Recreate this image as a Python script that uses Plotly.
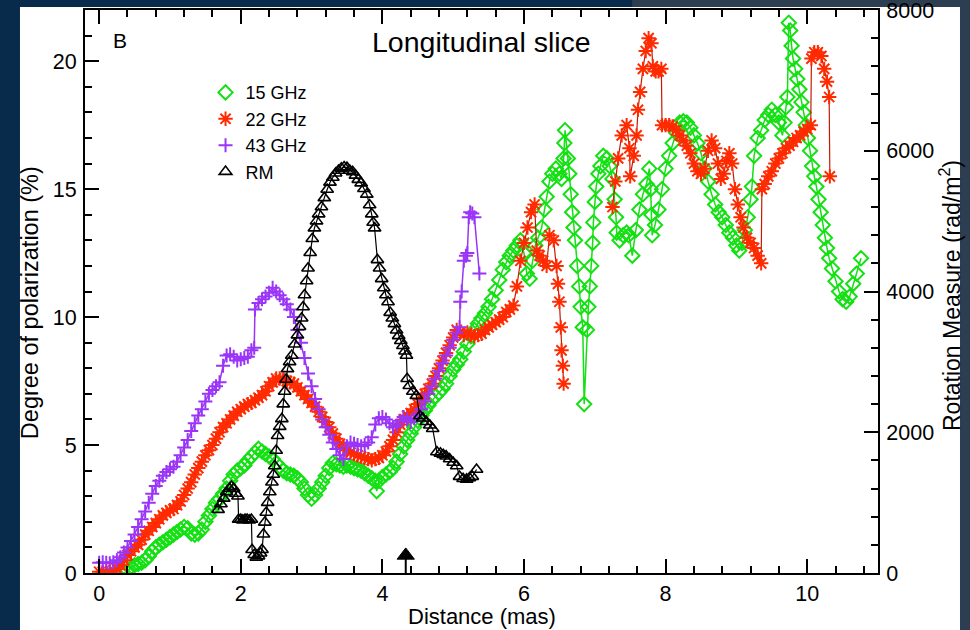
import plotly.graph_objects as go

# ---------------- data ----------------
# 43 GHz degree of polarization (%) along the jet
dist_43 = [0.00, 0.05, 0.10, 0.15, 0.20, 0.25, 0.30, 0.35, 0.40, 0.45, 0.50, 0.55, 0.60, 0.65,
           0.70, 0.75, 0.80, 0.85, 0.90, 0.95, 1.00, 1.05, 1.10, 1.15, 1.20, 1.25, 1.30, 1.35,
           1.40, 1.45, 1.50, 1.55, 1.60, 1.65, 1.70, 1.75, 1.80, 1.85, 1.90, 1.95, 2.00, 2.05,
           2.10, 2.15, 2.19, 2.20, 2.25, 2.30, 2.35, 2.40, 2.45, 2.50, 2.55, 2.60, 2.65, 2.70,
           2.75, 2.80, 2.85, 2.90, 2.95, 3.00, 3.05, 3.10, 3.15, 3.20, 3.25, 3.30, 3.35, 3.40,
           3.45, 3.50, 3.55, 3.60, 3.65, 3.70, 3.75, 3.80, 3.85, 3.90, 3.95, 4.00, 4.05, 4.10,
           4.15, 4.20, 4.25, 4.30, 4.35, 4.40, 4.45, 4.50, 4.55, 4.60, 4.65, 4.70, 4.75, 4.80,
           4.85, 4.90, 4.95, 5.00, 5.05, 5.09, 5.10, 5.12, 5.15, 5.18, 5.20, 5.22, 5.24, 5.27,
           5.30, 5.37]
pol_43 = [0.40, 0.42, 0.40, 0.38, 0.42, 0.50, 0.62, 0.80, 1.00, 1.25, 1.50, 1.80, 2.10, 2.40,
          2.75, 3.10, 3.40, 3.60, 3.80, 3.95, 4.05, 4.15, 4.35, 4.60, 4.90, 5.20, 5.55, 5.85,
          6.15, 6.40, 6.70, 7.00, 7.15, 7.30, 7.45, 8.10, 8.50, 8.55, 8.45, 8.30, 8.35, 8.40,
          8.45, 8.70, 8.80, 10.30, 10.55, 10.70, 10.80, 10.95, 11.15, 11.00, 10.85, 10.70, 10.50, 10.30,
          10.00, 9.50, 9.00, 8.40, 7.80, 7.30, 6.80, 6.40, 6.00, 5.70, 5.40, 5.10, 4.85, 4.60,
          4.45, 4.95, 5.10, 5.05, 5.00, 4.95, 5.00, 5.10, 5.30, 5.80, 6.05, 6.10, 6.00, 5.85,
          5.70, 5.75, 5.95, 6.10, 6.00, 5.90, 6.05, 6.20, 6.40, 6.70, 7.00, 7.30, 7.60, 7.90,
          8.20, 8.50, 8.80, 9.10, 9.40, 9.60, 10.60, 11.00, 12.20, 12.40, 12.50, 13.90, 14.10, 14.05,
          13.90, 11.70]

# 22 GHz degree of polarization (%); None marks the gap in coverage
dist_22 = [0.00, 0.05, 0.10, 0.15, 0.20, 0.25, 0.30, 0.35, 0.40, 0.45, 0.50, 0.55, 0.60, 0.65,
           0.70, 0.75, 0.80, 0.85, 0.90, 0.95, 1.00, 1.05, 1.10, 1.15, 1.20, 1.25, 1.30, 1.35,
           1.40, 1.45, 1.50, 1.55, 1.60, 1.65, 1.70, 1.75, 1.80, 1.85, 1.90, 1.95, 2.00, 2.05,
           2.10, 2.15, 2.20, 2.25, 2.30, 2.35, 2.40, 2.45, 2.50, 2.55, 2.60, 2.65, 2.70, 2.75,
           2.80, 2.85, 2.90, 2.95, 3.00, 3.05, 3.10, 3.15, 3.20, 3.25, 3.30, 3.35, 3.40, 3.45,
           3.50, 3.55, 3.60, 3.65, 3.70, 3.75, 3.80, 3.85, 3.90, 3.95, 4.00, 4.05, 4.10, 4.15,
           4.20, 4.25, 4.30, 4.35, 4.40, 4.45, 4.50, 4.55, 4.60, 4.65, 4.70, 4.75, 4.80, 4.85,
           4.90, 4.95, 5.00, 5.05, 5.10, 5.15, 5.20, 5.25, 5.30, 5.35, 5.40, 5.45, 5.50, 5.55,
           5.60, 5.65, 5.70, 5.75, 5.80, 5.85, 5.90, 5.95, 6.00, 6.05, 6.10, 6.15, 6.18, 6.22,
           6.27, 6.32, 6.36, 6.42, 6.46, 6.48, 6.50, 6.52, 6.53, 6.55, 6.56, None,
           7.25, 7.29, 7.33, 7.38, 7.45, 7.49, 7.50, 7.55, 7.59, 7.61, 7.64, 7.68, 7.72, 7.76,
           7.80, 7.82, 7.86, 7.90, 7.94, 7.95, 8.00, 8.05, 8.10, 8.15, 8.20, 8.25, 8.30, 8.35,
           8.40, 8.45, 8.50, 8.55, 8.60, 8.65, 8.70, 8.74, 8.78, 8.82, 8.86, 8.90, 8.94, 8.98,
           9.02, 9.06, 9.10, 9.15, 9.20, 9.25, 9.30, 9.35, 9.36, 9.40, 9.45, 9.50, 9.55, 9.60,
           9.65, 9.70, 9.75, 9.80, 9.85, 9.90, 9.95, 10.00, 10.05, 10.06, 10.10, 10.15, 10.20, 10.24,
           10.28, 10.31, 10.32]
pol_22 = [0.05, 0.05, 0.05, 0.05, 0.10, 0.15, 0.30, 0.50, 0.70, 0.85, 1.00, 1.10, 1.30, 1.50,
          1.65, 1.80, 1.95, 2.10, 2.25, 2.35, 2.45, 2.50, 2.65, 2.80, 3.05, 3.30, 3.55, 3.85,
          4.10, 4.35, 4.60, 4.80, 5.00, 5.25, 5.50, 5.70, 5.85, 6.00, 6.15, 6.30, 6.40, 6.50,
          6.60, 6.65, 6.75, 6.85, 6.95, 7.10, 7.30, 7.45, 7.60, 7.60, 7.55, 7.50, 7.45, 7.40,
          7.25, 7.10, 6.95, 6.80, 6.65, 6.50, 6.30, 6.10, 5.90, 5.70, 5.45, 5.25, 5.05, 4.90,
          4.80, 4.70, 4.65, 4.60, 4.55, 4.50, 4.45, 4.40, 4.45, 4.50, 4.60, 4.75, 4.95, 5.20,
          5.50, 5.80, 6.00, 6.15, 6.25, 6.40, 6.60, 6.80, 7.00, 7.20, 7.40, 7.70, 8.00, 8.30,
          8.60, 8.90, 9.20, 9.50, 9.40, 9.30, 9.40, 9.30, 9.25, 9.30, 9.35, 9.50, 9.60, 9.70,
          9.80, 9.90, 10.00, 10.20, 10.30, 10.45, 11.20, 12.20, 12.90, 13.50, 14.10, 14.40, 12.60, 12.40,
          12.20, 12.00, 13.20, 13.00, 12.00, 11.30, 10.60, 9.60, 8.70, 8.10, 7.40, None,
          14.30, 15.30, 16.20, 17.10, 17.50, 16.60, 15.50, 16.30, 17.10, 18.10, 18.80, 19.70, 20.40, 20.90,
          20.70, 19.80, 19.60, 19.60, 19.70, 17.50, 17.50, 17.50, 17.45, 17.30, 17.10, 16.90, 16.70, 16.40,
          16.00, 15.70, 15.60, 15.80, 16.50, 16.90, 16.60, 16.00, 15.40, 15.60, 16.10, 16.40, 16.00, 15.00,
          14.40, 13.90, 13.50, 13.10, 12.90, 12.70, 12.40, 12.10, 15.00, 15.20, 15.50, 15.70, 16.00, 16.20,
          16.40, 16.60, 16.70, 16.85, 17.00, 17.10, 17.25, 17.35, 17.50, 20.10, 20.35, 20.35, 20.20, 19.70,
          19.20, 18.60, 15.50]

# 15 GHz degree of polarization (%)
dist_15 = [0.35, 0.40, 0.45, 0.50, 0.55, 0.60, 0.65, 0.70, 0.75, 0.80, 0.85, 0.90, 0.95, 1.00,
           1.05, 1.10, 1.15, 1.20, 1.25, 1.30, 1.35, 1.40, 1.45, 1.50, 1.55, 1.60, 1.65, 1.70,
           1.75, 1.80, 1.85, 1.90, 1.95, 2.00, 2.05, 2.10, 2.15, 2.20, 2.25, 2.30, 2.35, 2.40,
           2.45, 2.50, 2.55, 2.60, 2.65, 2.70, 2.75, 2.80, 2.85, 2.90, 2.95, 3.00, 3.05, 3.10,
           3.15, 3.20, 3.25, 3.30, 3.35, 3.40, 3.45, 3.50, 3.55, 3.60, 3.65, 3.70, 3.75, 3.80,
           3.85, 3.90, 3.92, 3.95, 4.00, 4.05, 4.10, 4.15, 4.20, 4.25, 4.30, 4.35, 4.40, 4.45,
           4.50, 4.55, 4.60, 4.65, 4.70, 4.75, 4.80, 4.85, 4.90, 4.95, 5.00, 5.05, 5.10, 5.15,
           5.20, 5.25, 5.30, 5.35, 5.40, 5.45, 5.50, 5.55, 5.60, 5.65, 5.70, 5.75, 5.80, 5.85,
           5.90, 5.95, 6.00, 6.04, 6.08, 6.12, 6.16, 6.20, 6.25, 6.29, 6.32, 6.36, 6.40, 6.45,
           6.50, 6.53, 6.56, 6.57, 6.58, 6.62, 6.64, 6.66, 6.68, 6.70, 6.72, 6.75, 6.78, 6.80,
           6.83, 6.85, 6.89, 6.91, 6.93, 6.95, 6.97, 6.98, 7.00, 7.02, 7.05, 7.08, 7.12, 7.17,
           7.21, 7.25, 7.28, 7.30, 7.31, 7.35, 7.40, 7.45, 7.48, 7.53, 7.58, 7.63, 7.68, 7.73,
           7.77, 7.79, 7.80, 7.81, 7.85, 7.90, 7.95, 8.00, 8.05, 8.10, 8.15, 8.20, 8.25, 8.30,
           8.35, 8.40, 8.45, 8.50, 8.55, 8.60, 8.65, 8.70, 8.75, 8.80, 8.85, 8.90, 8.95, 9.00,
           9.04, 9.08, 9.12, 9.16, 9.20, 9.22, 9.25, 9.30, 9.35, 9.40, 9.45, 9.50, 9.55, 9.60,
           9.65, 9.68, 9.70, 9.72, 9.74, 9.76, 9.78, 9.80, 9.83, 9.86, 9.89, 9.92, 9.95, 9.98,
           10.01, 10.04, 10.07, 10.10, 10.13, 10.16, 10.19, 10.22, 10.25, 10.28, 10.31, 10.35, 10.40, 10.45,
           10.50, 10.55, 10.60, 10.65, 10.70, 10.76]
pol_15 = [0.00, 0.10, 0.20, 0.30, 0.35, 0.40, 0.50, 0.65, 0.85, 1.00, 1.10, 1.20, 1.30, 1.40,
          1.50, 1.60, 1.70, 1.80, 1.75, 1.55, 1.50, 1.55, 1.70, 2.00, 2.25, 2.50, 2.75, 2.90,
          3.10, 3.30, 3.60, 3.85, 4.00, 4.10, 4.20, 4.40, 4.55, 4.70, 4.85, 4.75, 4.65, 4.55,
          4.45, 4.30, 4.15, 4.00, 3.90, 3.85, 3.80, 3.70, 3.55, 3.30, 3.05, 2.90, 3.05, 3.30,
          3.55, 3.80, 4.10, 4.30, 4.25, 4.20, 4.15, 4.20, 4.15, 4.10, 4.05, 4.00, 3.90, 3.80,
          3.70, 3.60, 3.20, 3.60, 3.75, 3.85, 3.95, 4.10, 4.35, 4.65, 4.95, 5.20, 5.45, 5.70,
          5.95, 6.15, 6.35, 6.55, 6.75, 6.90, 7.05, 7.20, 7.40, 7.70, 7.95, 8.15, 8.35, 8.65,
          8.95, 9.25, 9.50, 9.75, 9.95, 10.15, 10.40, 10.70, 11.05, 11.45, 11.85, 12.15, 12.40, 12.60,
          12.80, 13.00, 12.50, 11.70, 11.50, 12.20, 12.80, 13.10, 13.50, 14.20, 14.70, 15.30, 15.60, 15.80,
          15.60, 15.40, 16.20, 16.80, 17.30, 16.20, 15.60, 14.80, 14.10, 13.50, 13.00, 12.00, 11.20, 10.40,
          9.60, 6.60, 9.50, 10.40, 11.20, 12.00, 12.90, 13.70, 14.50, 15.10, 15.60, 15.90, 16.30, 16.20,
          15.90, 15.40, 14.60, 13.90, 13.30, 13.00, 13.20, 13.30, 13.20, 12.40, 13.40, 14.20, 14.80, 15.20,
          15.80, 15.00, 14.00, 13.20, 13.60, 14.20, 15.00, 15.80, 16.30, 16.80, 17.20, 17.60, 17.65, 17.60,
          17.40, 17.10, 16.80, 16.40, 15.80, 15.30, 14.80, 14.40, 14.10, 13.90, 13.60, 13.30, 13.10, 12.80,
          12.60, 12.90, 13.40, 13.90, 14.60, 15.10, 16.30, 17.00, 17.30, 17.70, 17.90, 18.10, 17.90, 17.60,
          17.10, 17.60, 18.20, 18.60, 21.50, 21.20, 20.60, 20.10, 19.70, 19.30, 18.90, 18.40, 18.00, 17.50,
          17.00, 16.50, 15.90, 15.50, 15.10, 14.60, 14.10, 13.60, 13.10, 12.70, 12.30, 11.90, 11.40, 11.00,
          10.70, 10.60, 10.80, 11.30, 11.70, 12.30]

# Rotation measure (rad/m^2) on the right-hand axis
dist_rm = [1.68, 1.72, 1.76, 1.80, 1.84, 1.87, 1.90, 1.93, 1.96, 1.97, 2.00, 2.03, 2.06, 2.09,
           2.12, 2.15, 2.16, 2.19, 2.22, 2.25, 2.28, 2.30, 2.32, 2.34, 2.36, 2.38, 2.41, 2.44,
           2.46, 2.48, 2.50, 2.52, 2.55, 2.58, 2.60, 2.62, 2.64, 2.66, 2.69, 2.72, 2.76, 2.80,
           2.83, 2.86, 2.88, 2.90, 2.93, 2.95, 2.98, 3.01, 3.04, 3.07, 3.10, 3.14, 3.18, 3.22,
           3.26, 3.30, 3.34, 3.38, 3.42, 3.46, 3.50, 3.54, 3.58, 3.62, 3.66, 3.70, 3.74, 3.78,
           3.82, 3.85, 3.87, 3.89, 3.93, 3.96, 3.99, 4.02, 4.05, 4.08, 4.11, 4.14, 4.17, 4.20,
           4.23, 4.26, 4.29, 4.32, 4.34, 4.35, 4.38, 4.43, 4.48, 4.53, 4.57, 4.62, 4.67, 4.71,
           4.77, 4.82, 4.86, 4.90, 4.95, 5.00, 5.05, 5.09, 5.14, 5.19, 5.23, 5.27, 5.33]
rm = [900, 980, 1060, 1150, 1200, 1230, 1200, 1130, 1090, 760, 760, 750, 760, 760,
      750, 760, 330, 260, 220, 240, 280, 330, 550, 720, 860, 1000, 1150, 1290,
      1400, 1520, 1740, 1950, 2080, 2190, 2400, 2580, 2750, 2900, 3000, 3090, 3250, 3380,
      3500, 3620, 3780, 3950, 4150, 4330, 4550, 4750, 4900, 5000, 5100, 5200, 5330, 5450,
      5550, 5620, 5680, 5720, 5750, 5770, 5760, 5720, 5700, 5650, 5590, 5540, 5460, 5380,
      5230, 5100, 4980, 4900, 4450, 4330, 4180, 4050, 3950, 3850, 3700, 3620, 3540, 3450,
      3370, 3300, 3230, 3150, 3090, 2760, 2660, 2580, 2520, 2230, 2200, 2150, 2100, 2050,
      1720, 1700, 1680, 1660, 1620, 1570, 1520, 1370, 1340, 1330, 1350, 1370, 1470]

# position marker drawn as an arrow on the distance axis
arrow_dist = [4.33, 4.33]
arrow_rm = [0, 250]

series_names = ["15 GHz", "22 GHz", "43 GHz", "RM"]
x_ticks = [0, 2, 4, 6, 8, 10]
y_ticks = [0, 5, 10, 15, 20]
rm_ticks = [0, 2000, 4000, 6000, 8000]

# ---------------- styling ----------------
GREEN = "#14e014"
RED = "#ff2a00"
RED_LINE = "#c41a00"
PURPLE = "#9a35f7"
BLACK = "#000000"
FONT = "Liberation Sans, Arial, Helvetica, sans-serif"
NAVY = "#082b4c"
SLATE = "#2c3e50"

green_marker = dict(symbol="diamond-open", size=11, color=GREEN, line=dict(color=GREEN, width=2))
red_marker = dict(symbol="asterisk-open", size=12, color=RED, line=dict(color=RED, width=2))
purple_marker = dict(symbol="cross-thin-open", size=10, color=PURPLE, line=dict(color=PURPLE, width=2))
black_marker = dict(symbol="triangle-up-open", size=11, color=BLACK, line=dict(color=BLACK, width=1.6))

fig = go.Figure()

fig.add_trace(go.Scatter(
    x=dist_15, y=pol_15, mode="lines+markers", showlegend=False,
    line=dict(color=GREEN, width=1.5), marker=green_marker))

fig.add_trace(go.Scatter(
    x=dist_22, y=pol_22, mode="lines+markers", showlegend=False, connectgaps=False,
    line=dict(color=RED_LINE, width=1.2), marker=red_marker))

fig.add_trace(go.Scatter(
    x=dist_43, y=pol_43, mode="lines+markers", showlegend=False,
    line=dict(color=PURPLE, width=1.5), marker=purple_marker))

fig.add_trace(go.Scatter(
    x=dist_rm, y=rm, yaxis="y2", mode="lines+markers", showlegend=False,
    line=dict(color=BLACK, width=1.2), marker=black_marker))

# arrow: stem plus solid head
fig.add_trace(go.Scatter(
    x=arrow_dist, y=arrow_rm, yaxis="y2", mode="lines", showlegend=False,
    line=dict(color=BLACK, width=2)))
fig.add_trace(go.Scatter(
    x=arrow_dist[-1:], y=arrow_rm[-1:], yaxis="y2", mode="markers", showlegend=False,
    marker=dict(symbol="triangle-up", size=15, color=BLACK, line=dict(color=BLACK, width=1))))

# legend entries (symbol only)
for name, mk in zip(series_names, [green_marker, red_marker, purple_marker, black_marker]):
    fig.add_trace(go.Scatter(x=[None], y=[None], mode="markers", name=name, marker=mk))

axis_common = dict(
    showline=True, linecolor=BLACK, linewidth=2, ticks="inside", ticklen=14, tickwidth=1.8,
    tickcolor=BLACK, showgrid=False, zeroline=False, automargin=False, ticklabeloverflow="allow",
    tickfont=dict(family=FONT, size=21.5, color=BLACK),
)

fig.update_layout(
    width=970, height=630,
    margin=dict(l=85, r=92, t=10, b=57, autoexpand=False),
    paper_bgcolor=NAVY, plot_bgcolor="white",
    xaxis=dict(range=[-0.2, 11], tickvals=x_ticks, mirror="ticks", ticklabelstandoff=0,
               minor=dict(dtick=0.4, tick0=0, ticks="inside", ticklen=7, tickwidth=1.5, tickcolor=BLACK),
               **axis_common),
    yaxis=dict(range=[0, 22], tickvals=y_ticks, ticklabelstandoff=2,
               minor=dict(dtick=1, tick0=0, ticks="inside", ticklen=7, tickwidth=1.5, tickcolor=BLACK),
               **axis_common),
    yaxis2=dict(range=[0, 8000], tickvals=rm_ticks, overlaying="y", side="right", ticklabelstandoff=2,
                minor=dict(dtick=400, tick0=0, ticks="inside", ticklen=7, tickwidth=1.5, tickcolor=BLACK),
                **axis_common),
    legend=dict(x=0.152, y=0.886, xanchor="left", yanchor="top", bgcolor="rgba(0,0,0,0)",
                font=dict(family=FONT, size=18, color=BLACK), tracegroupgap=0, itemwidth=30),
    showlegend=True,
    shapes=[
        dict(type="rect", xref="paper", yref="paper", x0=-0.082, x1=1.1034, y0=-0.102, y1=1.0053,
             fillcolor="white", line=dict(width=0), layer="below"),
        dict(type="rect", xref="paper", yref="paper", x0=1.1034, x1=1.12, y0=-0.102, y1=1.02,
             fillcolor=SLATE, line=dict(width=0), layer="below"),
        dict(type="rect", xref="paper", yref="paper", x0=0.69, x1=1.12, y0=1.0053, y1=1.02,
             fillcolor=SLATE, line=dict(width=0), layer="below"),
    ],
    annotations=[
        dict(text="Longitudinal slice", xref="paper", yref="paper", x=0.5006, y=0.943,
             xanchor="center", yanchor="middle", showarrow=False,
             font=dict(family=FONT, size=28.5, color=BLACK)),
        dict(text="B", xref="paper", yref="paper", x=0.044, y=0.945,
             xanchor="center", yanchor="middle", showarrow=False,
             font=dict(family=FONT, size=21, color=BLACK)),
        dict(text="Distance (mas)", xref="paper", yref="paper", x=0.5006, y=-0.0775,
             xanchor="center", yanchor="middle", showarrow=False,
             font=dict(family=FONT, size=22, color=BLACK)),
        dict(text="Degree of polarization (%)", xref="paper", yref="paper", x=-0.0694, y=0.481,
             xanchor="center", yanchor="middle", showarrow=False, textangle=-90,
             font=dict(family=FONT, size=23.5, color=BLACK)),
        dict(text="Rotation Measure (rad/m<sup>2</sup>)", xref="paper", yref="paper", x=1.0908, y=0.492,
             xanchor="center", yanchor="middle", showarrow=False, textangle=-90,
             font=dict(family=FONT, size=23, color=BLACK)),
    ],
)

fig.write_html("out.html")
